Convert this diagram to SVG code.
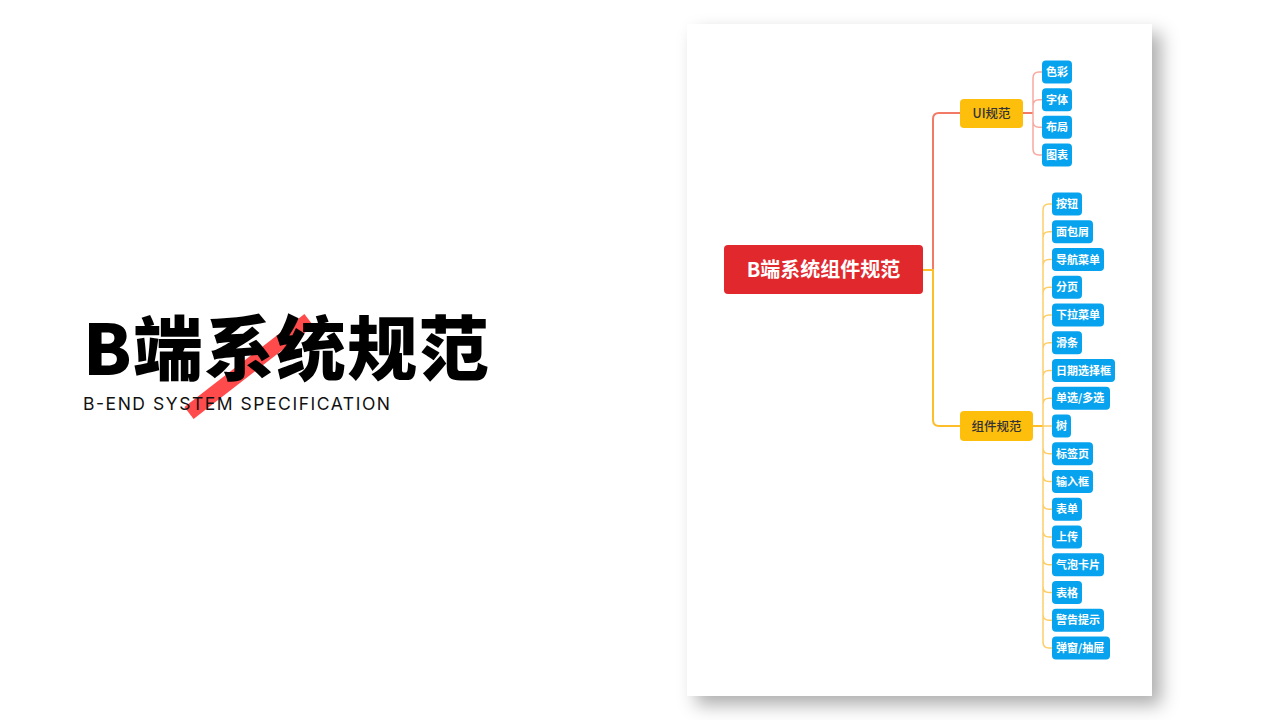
<svg xmlns="http://www.w3.org/2000/svg" width="1280" height="720" viewBox="0 0 1280 720">
<defs>
<filter id="shadow" x="-20%" y="-20%" width="140%" height="140%">
<feDropShadow dx="9" dy="9" stdDeviation="9" flood-color="#000" flood-opacity="0.32"/>
</filter>
<style>
.cjk{font-family:"Noto Sans CJK SC","Noto Sans",sans-serif;}
.leaf rect{fill:#08A3EE;}
.leaf text{font-family:"Noto Sans CJK SC","Noto Sans",sans-serif;font-size:11px;font-weight:700;fill:#fff;}
.mid rect{fill:#FDBE0C;}
.mid text{font-family:"Noto Sans CJK SC","Noto Sans",sans-serif;font-size:12.5px;font-weight:500;fill:#333;text-anchor:middle;}
.ui{fill:none;stroke:#F47A68;stroke-width:2;}
.uis{fill:none;stroke:#F8A99F;stroke-width:1.5;}
.cp{fill:none;stroke:#FDBE2A;stroke-width:2;}
.cps{fill:none;stroke:#FDCE68;stroke-width:1.5;}
</style>
</defs>
<rect width="1280" height="720" fill="#fff"/>

<g id="title">
<line x1="189" y1="413" x2="309" y2="320" stroke="#FF4B4B" stroke-width="15"/>
<text x="83" y="375" class="cjk" font-size="70" font-weight="900" fill="#000" letter-spacing="1.4">B端系统规范</text>
<text x="83" y="410" font-family="Inter,'Liberation Sans',sans-serif" font-size="17.5" fill="#111" textLength="307" lengthAdjust="spacing">B-END SYSTEM SPECIFICATION</text>
</g>

<rect id="card" x="687" y="24" width="465" height="672" fill="#fff" filter="url(#shadow)"/>

<g id="connectors">
<path class="ui" d="M923,270 H933 V119 Q933,113 939,113 H960"/>
<path class="cp" d="M923,270 H933 V420 Q933,426 939,426 H960"/>
<path class="ui" d="M1023,113 H1033"/>
<path class="uis" d="M1033,113 V78 Q1033,72 1039,72 H1042 M1033,113 V105.7 Q1033,99.7 1039,99.7 H1042 M1033,113 V121.3 Q1033,127.3 1039,127.3 H1042 M1033,113 V149 Q1033,155 1039,155 H1042"/>
<path class="cp" d="M1033,426 H1043"/>
<path class="cps" d="M1043,426 V210 Q1043,204 1049,204 H1052 M1043,426 V237.8 Q1043,231.8 1049,231.8 H1052 M1043,426 V265.5 Q1043,259.5 1049,259.5 H1052 M1043,426 V293.3 Q1043,287.3 1049,287.3 H1052 M1043,426 V321 Q1043,315 1049,315 H1052 M1043,426 V348.8 Q1043,342.8 1049,342.8 H1052 M1043,426 V376.5 Q1043,370.5 1049,370.5 H1052 M1043,426 V404.3 Q1043,398.3 1049,398.3 H1052 M1043,426 H1052 M1043,426 V447.8 Q1043,453.8 1049,453.8 H1052 M1043,426 V475.5 Q1043,481.5 1049,481.5 H1052 M1043,426 V503.3 Q1043,509.3 1049,509.3 H1052 M1043,426 V531 Q1043,537 1049,537 H1052 M1043,426 V558.8 Q1043,564.8 1049,564.8 H1052 M1043,426 V586.5 Q1043,592.5 1049,592.5 H1052 M1043,426 V614.3 Q1043,620.3 1049,620.3 H1052 M1043,426 V642 Q1043,648 1049,648 H1052"/>
</g>

<g id="root">
<rect x="724" y="245" width="199" height="49" rx="4" fill="#E1292D"/>
<text x="823.5" y="277" class="cjk" font-size="20" font-weight="700" fill="#fff" text-anchor="middle">B端系统组件规范</text>
</g>

<g id="ui-spec" class="mid">
<rect x="960" y="99" width="63" height="29" rx="4"/>
<text x="991.5" y="118">UI规范</text>
</g>
<g id="comp-spec" class="mid">
<rect x="960" y="411" width="73" height="30" rx="4"/>
<text x="996.5" y="430.5">组件规范</text>
</g>

<g id="n-color" class="leaf"><rect x="1042" y="60.5" width="30" height="23" rx="4"/><text x="1046" y="76">色彩</text></g>
<g id="n-font" class="leaf"><rect x="1042" y="88.2" width="30" height="23" rx="4"/><text x="1046" y="103.7">字体</text></g>
<g id="n-layout" class="leaf"><rect x="1042" y="115.8" width="30" height="23" rx="4"/><text x="1046" y="131.3">布局</text></g>
<g id="n-chart" class="leaf"><rect x="1042" y="143.5" width="30" height="23" rx="4"/><text x="1046" y="159">图表</text></g>

<g id="c-button" class="leaf"><rect x="1052" y="192.5" width="30" height="23" rx="4"/><text x="1056" y="208">按钮</text></g>
<g id="c-breadcrumb" class="leaf"><rect x="1052" y="220.3" width="41" height="23" rx="4"/><text x="1056" y="235.8">面包屑</text></g>
<g id="c-nav" class="leaf"><rect x="1052" y="248" width="52" height="23" rx="4"/><text x="1056" y="263.5">导航菜单</text></g>
<g id="c-page" class="leaf"><rect x="1052" y="275.8" width="30" height="23" rx="4"/><text x="1056" y="291.3">分页</text></g>
<g id="c-dropdown" class="leaf"><rect x="1052" y="303.5" width="52" height="23" rx="4"/><text x="1056" y="319">下拉菜单</text></g>
<g id="c-slider" class="leaf"><rect x="1052" y="331.3" width="30" height="23" rx="4"/><text x="1056" y="346.8">滑条</text></g>
<g id="c-date" class="leaf"><rect x="1052" y="359" width="63" height="23" rx="4"/><text x="1056" y="374.5">日期选择框</text></g>
<g id="c-radio" class="leaf"><rect x="1052" y="386.8" width="58" height="23" rx="4"/><text x="1056" y="402.3">单选/多选</text></g>
<g id="c-tree" class="leaf"><rect x="1052" y="414.5" width="19" height="23" rx="4"/><text x="1056" y="430">树</text></g>
<g id="c-tabs" class="leaf"><rect x="1052" y="442.3" width="41" height="23" rx="4"/><text x="1056" y="457.8">标签页</text></g>
<g id="c-input" class="leaf"><rect x="1052" y="470" width="41" height="23" rx="4"/><text x="1056" y="485.5">输入框</text></g>
<g id="c-form" class="leaf"><rect x="1052" y="497.8" width="30" height="23" rx="4"/><text x="1056" y="513.3">表单</text></g>
<g id="c-upload" class="leaf"><rect x="1052" y="525.5" width="30" height="23" rx="4"/><text x="1056" y="541">上传</text></g>
<g id="c-popover" class="leaf"><rect x="1052" y="553.3" width="52" height="23" rx="4"/><text x="1056" y="568.8">气泡卡片</text></g>
<g id="c-table" class="leaf"><rect x="1052" y="581" width="30" height="23" rx="4"/><text x="1056" y="596.5">表格</text></g>
<g id="c-alert" class="leaf"><rect x="1052" y="608.8" width="52" height="23" rx="4"/><text x="1056" y="624.3">警告提示</text></g>
<g id="c-modal" class="leaf"><rect x="1052" y="636.5" width="58" height="23" rx="4"/><text x="1056" y="652">弹窗/抽屉</text></g>
</svg>
